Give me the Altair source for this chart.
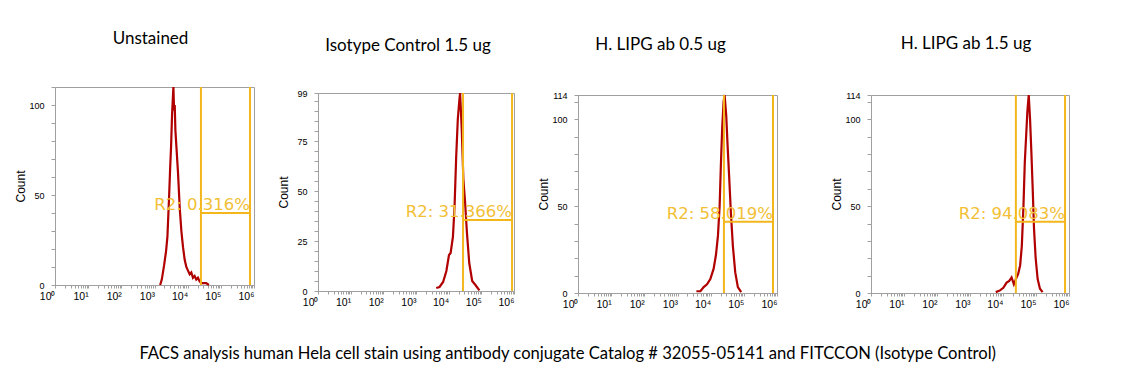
import altair as alt
import pandas as pd
import numpy as np
import json

# ---------------- data ----------------
titles = ["Unstained", "Isotype Control 1.5 ug", "H. LIPG ab 0.5 ug", "H. LIPG ab 1.5 ug"]
caption = "FACS analysis human Hela cell stain using antibody conjugate Catalog # 32055-05141 and FITCCON (Isotype Control)"

# histogram x positions are log10(fluorescence); y are counts
unst_x = [3.17, 3.22, 3.29, 3.35, 3.39, 3.44, 3.47, 3.50, 3.53, 3.57, 3.59, 3.61, 3.63, 3.66, 3.71,
          3.76, 3.81, 3.86, 3.91, 3.96, 4.01, 4.06, 4.11, 4.16, 4.21, 4.26, 4.31, 4.36, 4.41, 4.48, 4.56, 4.64]
unst_y = [0, 3, 11, 19, 27, 49, 64, 77, 95, 110, 97, 100, 86, 77, 62,
          43, 30, 21, 14, 10, 8, 6, 7, 4, 5, 3, 4, 2, 1, 1, 1, 0]

iso_x = [3.62, 3.72, 3.83, 3.93, 4.01, 4.06, 4.13, 4.18, 4.23, 4.28, 4.33, 4.35, 4.40, 4.45,
         4.50, 4.56, 4.63, 4.72, 4.82, 4.94]
iso_y = [1.5, 2, 4.5, 10, 18, 19, 27, 42, 67, 86, 96, 99, 81, 56,
         45, 29, 14, 5, 3, 0.3]

lo_x = [3.57, 3.69, 3.79, 3.89, 3.99, 4.09, 4.16, 4.22, 4.27, 4.31, 4.35, 4.39, 4.42, 4.47, 4.51,
        4.56, 4.61, 4.67, 4.74, 4.82, 4.92]
lo_y = [1, 1, 3.4, 5, 8, 14, 22, 33, 50, 75, 96, 110, 114, 102, 85,
        66, 46, 27, 12, 3.4, 0.5]

hi_x = [3.78, 3.91, 4.01, 4.11, 4.19, 4.26, 4.33, 4.39, 4.46, 4.52, 4.57, 4.62, 4.66, 4.70, 4.74,
        4.78, 4.82, 4.86, 4.90, 4.94, 4.99, 5.05, 5.12, 5.20]
hi_y = [0.5, 1.5, 3, 6, 7, 9, 5, 8, 11, 16, 27, 50, 75, 90, 105,
        114, 100, 81, 60, 37, 20, 8, 2.5, 0.5]

hist_x = [unst_x, iso_x, lo_x, hi_x]
hist_y = [unst_y, iso_y, lo_y, hi_y]

gate_lo = [4.40, 4.44, 4.40, 4.39]
gate_hi = [5.88, 5.94, 5.88, 5.88]
gate_level = [40, 35.5, 41, 41]
r2_labels = ["R2: 0.316%", "R2: 31.366%", "R2: 58.019%", "R2: 94.083%"]

y_max = [110, 99, 114, 114]
y_labels = [[0, 50, 100], [0, 25, 50, 75, 99], [0, 50, 100, 114], [0, 50, 100, 114]]
y_step = [10, 5, 10, 10]

x_decades = [0, 1, 2, 3, 4, 5, 6]

# ---------------- style / layout ----------------
RED = "#b00000"
GOLD = "#f3b71c"
GOLD_TXT = "#f2c035"
GRAY = "#a0a0a0"

widths = [199, 196, 199, 198]
title_offsets = [35, 34, 37, 38]
title_dx = [-4, -8, -17, -4]
spacer_h = [1, 8, 7, 6]

x_ticks = []
for d in x_decades[:-1]:
    for k in range(1, 10):
        x_ticks.append(d + float(np.log10(k)))
x_ticks.append(float(x_decades[-1]))

sup = ["⁰", "¹", "²", "³", "⁴", "⁵", "⁶"]
x_label_expr = ("datum.value == round(datum.value) ? '10' + " + json.dumps(sup, ensure_ascii=False)
                + "[round(datum.value)] : ''")


def panel(i):
    hist = pd.DataFrame({"x": hist_x[i], "y": hist_y[i]})
    gate = pd.DataFrame({"lo": [gate_lo[i]], "hi": [gate_hi[i]],
                         "lvl": [gate_level[i]], "label": [r2_labels[i]]})

    yt = sorted(set(list(range(0, y_max[i] + 1, y_step[i])) + y_labels[i]))
    y_label_expr = "indexof(" + json.dumps(y_labels[i]) + ", datum.value) >= 0 ? datum.label : ''"

    xscale = alt.Scale(domain=[0, 6], nice=False, zero=False)
    yscale = alt.Scale(domain=[0, y_max[i]], nice=False, zero=True)

    xaxis = alt.Axis(values=x_ticks, labelExpr=x_label_expr, title=None, grid=False,
                     tickSize=3, labelPadding=3, labelAlign="right", labelFlush=False,
                     labelOverlap=False, labelFontSize=10.5, labelFont="Liberation Sans",
                     labelColor="#000000", domainColor=GRAY, tickColor=GRAY)
    yaxis = alt.Axis(values=yt, labelExpr=y_label_expr, title="Count", grid=False,
                     tickSize=4, labelPadding=7, minExtent=22, maxExtent=22, titlePadding=6,
                     titleFontSize=12, titleFontWeight="normal", titleFont="Liberation Sans",
                     titleColor="#000000", labelFontSize=9, labelFont="Liberation Sans",
                     labelColor="#000000", labelFlush=False, labelOverlap=False,
                     domainColor=GRAY, tickColor=GRAY)

    X = lambda f: alt.X(f, scale=xscale, axis=xaxis)
    Y = lambda f: alt.Y(f, scale=yscale, axis=yaxis)

    line = alt.Chart(hist).mark_line(color=RED, strokeWidth=2.2).encode(x=X("x:Q"), y=Y("y:Q"))
    vlo = alt.Chart(gate).mark_rule(color=GOLD, strokeWidth=2).encode(x=X("lo:Q"))
    vhi = alt.Chart(gate).mark_rule(color=GOLD, strokeWidth=2).encode(x=X("hi:Q"))
    hl = alt.Chart(gate).mark_rule(color=GOLD, strokeWidth=2).encode(
        x=X("lo:Q"), x2="hi:Q", y=Y("lvl:Q"))
    txt = alt.Chart(gate).mark_text(align="right", baseline="alphabetic", dy=-3,
                                    font="DejaVu Sans", fontSize=16.5, color=GOLD_TXT).encode(
        x=X("hi:Q"), y=Y("lvl:Q"), text="label:N")

    body = alt.layer(line, vlo, vhi, hl, txt).properties(
        width=widths[i], height=198,
        title=alt.TitleParams(titles[i], offset=title_offsets[i], dx=title_dx[i], anchor="middle",
                              font="Lato", fontSize=17, fontWeight="normal", color="#000000"))

    # invisible spacer that sets this panel's vertical position
    spacer = alt.Chart(pd.DataFrame({"s": [0]})).mark_point(size=0, opacity=0).encode(
        opacity=alt.value(0)).properties(width=widths[i], height=spacer_h[i],
                                         view=alt.ViewBackground(stroke="transparent"))
    return alt.vconcat(spacer, body, spacing=0)


p = [panel(i) for i in range(4)]
inner = alt.hconcat(p[0], p[1], p[2], spacing=21)
chart = alt.hconcat(inner, p[3], spacing=51).properties(
    title=alt.TitleParams(caption, orient="bottom", anchor="middle", offset=36, dx=26,
                          font="Lato", fontSize=16.6, fontWeight="normal", color="#000000"),
    padding={"left": 5, "top": 18, "right": 0, "bottom": 0},
    background="#ffffff",
).configure_view(stroke=GRAY, strokeWidth=1)

chart.save("out.html", embed_options={"renderer": "svg", "actions": False})
